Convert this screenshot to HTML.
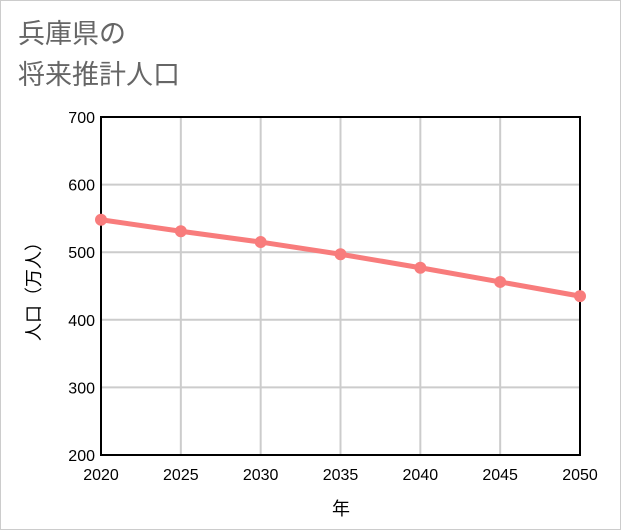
<!DOCTYPE html>
<html><head><meta charset="utf-8"><style>
body{margin:0;background:#fff}
#wrap{position:relative;width:619px;height:528px;border:1px solid #ccc;background:#fff;font-family:"Liberation Sans","Noto Sans CJK JP",sans-serif}
.t{position:absolute;left:17px;color:#666;font-size:27px;line-height:34px}
</style></head><body>
<div id="wrap">
<div class="t" style="top:16px">兵庫県の</div>
<div class="t" style="top:57px">将来推計人口</div>
<svg id="c" width="619" height="528" style="position:absolute;left:0;top:0"></svg>
</div>
<script>
const years=[2020,2025,2030,2035,2040,2045,2050];
const population=[548,531,515,497,477,456,435];
const yTicks=[200,300,400,500,600,700];
const svg=document.getElementById('c');
const NS='http://www.w3.org/2000/svg';
const x0=100,x1=579,y0=454,y1=116;
const xs=v=>x0+(v-2020)/30*(x1-x0);
const ys=v=>y0-(v-200)/500*(y0-y1);
function mk(t,a){const e=document.createElementNS(NS,t);for(const k in a)e.setAttribute(k,a[k]);svg.appendChild(e);return e;}
yTicks.forEach(v=>{
 const g=mk('line',{x1:x0,x2:x1,y1:ys(v),y2:ys(v),stroke:'#ccc','stroke-width':2});
 
 
 const t=mk('text',{x:x0-6,y:ys(v)+6,'text-anchor':'end','font-size':16,fill:'#000'});
 t.textContent=v;
 
 
});
years.forEach(v=>{
 const g=mk('line',{x1:xs(v),x2:xs(v),y1:y1,y2:y0,stroke:'#ccc','stroke-width':2});
 
 
 const t=mk('text',{x:xs(v),y:y0+25,'text-anchor':'middle','font-size':16,fill:'#000'});
 t.textContent=v;
 
 
});
const fr=mk('rect',{x:x0,y:y1,width:x1-x0,height:y0-y1,fill:'none',stroke:'#000','stroke-width':2});


const pl=mk('polyline',{points:years.map((y,i)=>xs(y)+','+ys(population[i])).join(' '),fill:'none',stroke:'#f87c7c','stroke-width':5});


years.forEach((y,i)=>{
 const c=mk('circle',{cx:xs(y),cy:ys(population[i]),r:6,fill:'#f87c7c'});
 
 
});
const xt=mk('text',{x:340,y:514,'text-anchor':'middle','font-size':18,fill:'#000'});
xt.textContent='年';


const yt=mk('text',{x:0,y:0,'text-anchor':'middle','font-size':18,fill:'#000',transform:'translate(39,286) rotate(-90)'});
yt.textContent='人口（万人）';


</script>
</body></html>
